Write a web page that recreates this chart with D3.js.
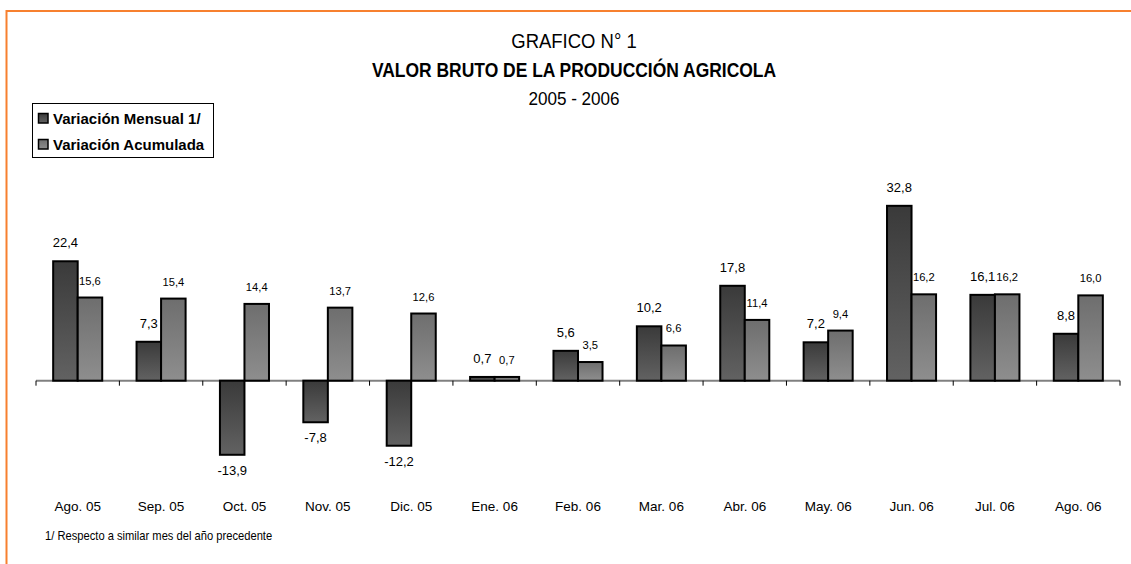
<!DOCTYPE html>
<html lang="es">
<head>
    <meta charset="UTF-8">
    <title>Valor Bruto de la Producción Agrícola</title>
    <script src="https://d3js.org/d3.v7.min.js"></script>
    <style>
        body { margin: 0; background: #fff; }
        text { font-family: "Liberation Sans", Arial, sans-serif; fill: #000; }
        .bar { stroke: #000; stroke-width: 2; }
    </style>
</head>
<body>
    <svg width="1131" height="564"></svg>
    <script>

        // datos del grafico
        const categorias = ["Ago. 05", "Sep. 05", "Oct. 05", "Nov. 05", "Dic. 05", "Ene. 06", "Feb. 06",
            "Mar. 06", "Abr. 06", "May. 06", "Jun. 06", "Jul. 06", "Ago. 06"];
        const series = ["Variación Mensual 1/", "Variación Acumulada"];
        const mensual = [22.4, 7.3, -13.9, -7.8, -12.2, 0.7, 5.6, 10.2, 17.8, 7.2, 32.8, 16.1, 8.8];
        const acumulada = [15.6, 15.4, 14.4, 13.7, 12.6, 0.7, 3.5, 6.6, 11.4, 9.4, 16.2, 16.2, 16.0];

        const svg = d3.select("svg");
        const width = +svg.attr("width");

        // marco naranja
        svg.append("rect")
            .attr("x", 6.5).attr("y", 11)
            .attr("width", width + 20).attr("height", 600)
            .attr("fill", "none")
            .attr("stroke", "#f7802f")
            .attr("stroke-width", 2);

        // degradados de las barras
        const defs = svg.append("defs");
        const grad = [["g0", "#3a3a3a", "#626262"], ["g1", "#6e6e6e", "#8e8e8e"]];
        grad.forEach(g => {
            const lg = defs.append("linearGradient").attr("id", g[0])
                .attr("x1", 0).attr("y1", 0).attr("x2", 0).attr("y2", 1);
            lg.append("stop").attr("offset", "0%").attr("stop-color", g[1]);
            lg.append("stop").attr("offset", "100%").attr("stop-color", g[2]);
        });

        const x = d3.scaleBand().domain(categorias).range([36, 1120]);
        const x1 = d3.scaleBand().domain(series).range([0, x.bandwidth()]).paddingOuter(0.7);
        const y = d3.scaleLinear().domain([-20, 35]).range([487.3, 194.1]);

        const es = d3.formatLocale({ decimal: ",", thousands: ".", grouping: [3], currency: ["", ""], minus: "-" });
        const fmt = es.format(".1f");

        const tabla = categorias.map((c, i) => ({ cat: c, valores: [mensual[i], acumulada[i]] }));

        // texto angosto (no hay Arial Narrow): se comprime en horizontal
        function angosto(px, py, sx, txt, size, bold, anchor) {
            const t = svg.append("g")
                .attr("transform", `translate(${px},${py}) scale(${sx},1)`)
                .append("text")
                .attr("text-anchor", anchor || "middle")
                .style("font-size", size)
                .text(txt);
            if (bold) t.style("font-weight", "bold");
            return t;
        }

        // titulos
        const cx = 574;
        angosto(cx, 48, 0.88, "GRAFICO N° 1", "21px");
        angosto(cx, 76.5, 0.895, "VALOR BRUTO DE LA PRODUCCIÓN AGRICOLA", "19.5px", true);
        angosto(cx, 105, 0.9, "2005 - 2006", "19px");

        // eje horizontal
        svg.append("line")
            .attr("x1", 36).attr("x2", 1120)
            .attr("y1", y(0)).attr("y2", y(0))
            .attr("stroke", "#808080").attr("stroke-width", 2);

        const bordes = categorias.map(c => x(c)).concat([x.range()[1]]);
        svg.selectAll(".tick-x").data(bordes).enter().append("line")
            .attr("class", "tick-x")
            .attr("x1", d => d).attr("x2", d => d)
            .attr("y1", y(0)).attr("y2", y(0) + 5)
            .attr("stroke", "#000").attr("stroke-width", 1);

        const ejeX = svg.append("g")
            .attr("transform", `translate(0,${y(-20)})`)
            .call(d3.axisBottom(x).tickSize(0).tickPadding(0));
        ejeX.select(".domain").remove();
        ejeX.selectAll("text")
            .attr("dy", null).attr("y", 23.5)
            .style("font-size", "13.5px")
            .style("font-family", "'Liberation Sans', Arial, sans-serif")
            .attr("fill", "#000");

        // barras
        const grupos = svg.selectAll(".grupo").data(tabla).enter().append("g")
            .attr("class", "grupo")
            .attr("transform", d => `translate(${x(d.cat)},0)`);

        grupos.selectAll("rect").data(d => d.valores.map((v, k) => ({ s: series[k], k: k, v: v })))
            .enter().append("rect")
            .attr("class", "bar")
            .attr("x", d => x1(d.s))
            .attr("width", x1.bandwidth())
            .attr("y", d => y(Math.max(0, d.v)))
            .attr("height", d => Math.abs(y(d.v) - y(0)))
            .attr("fill", d => `url(#g${d.k})`);

        grupos.selectAll(".etq").data(d => d.valores.map((v, k) => ({ s: series[k], k: k, v: v })))
            .enter().append("text")
            .attr("class", "etq")
            .attr("x", d => x1(d.s) + x1.bandwidth() / 2)
            .attr("y", d => d.v >= 0 ? y(d.v) - (d.k === 0 ? 14 : 13) : y(d.v) + 20)
            .attr("text-anchor", "middle")
            .style("font-size", d => d.k === 0 ? "13px" : "11.2px")
            .text(d => fmt(d.v));

        // leyenda
        const ley = svg.append("g");
        ley.append("rect")
            .attr("x", 32.5).attr("y", 103.5).attr("width", 181).attr("height", 54)
            .attr("fill", "#fff").attr("stroke", "#000").attr("stroke-width", 1);
        series.forEach((s, k) => {
            ley.append("rect")
                .attr("x", 38.5).attr("y", 113.5 + k * 26).attr("width", 9.5).attr("height", 9.5)
                .attr("fill", `url(#g${k})`).attr("stroke", "#000").attr("stroke-width", 1.5);
            ley.append("text")
                .attr("x", 53).attr("y", 123.5 + k * 26)
                .style("font-size", "15px").style("font-weight", "bold")
                .text(s);
        });

        // nota
        angosto(45, 540, 0.86, "1/ Respecto a similar mes del año precedente", "13px", false, "start");
    </script>
</body>
</html>
